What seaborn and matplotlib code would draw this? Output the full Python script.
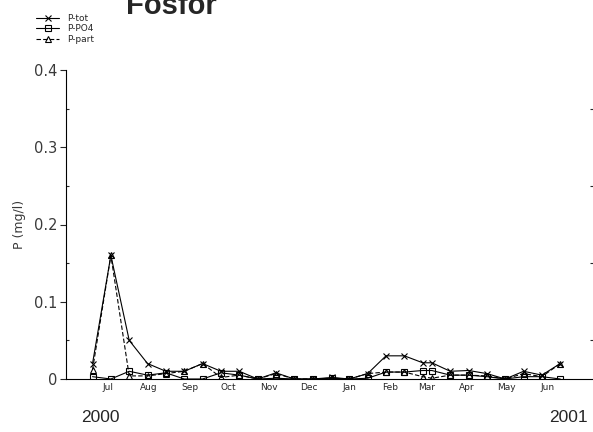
import numpy as np
import pandas as pd
import matplotlib
matplotlib.use('Agg')
import matplotlib.pyplot as plt
import matplotlib.ticker as ticker
import matplotlib.transforms as mtransforms
from matplotlib.legend_handler import HandlerLine2D
import seaborn as sns

# sampling dates (biweekly Mondays)
dates = pd.to_datetime([
    '2000-07-03', '2000-07-17', '2000-07-31', '2000-08-14', '2000-08-28',
    '2000-09-11', '2000-09-25', '2000-10-09', '2000-10-23', '2000-11-06',
    '2000-11-20', '2000-12-04', '2000-12-18', '2001-01-02', '2001-01-15',
    '2001-01-29', '2001-02-12', '2001-02-26', '2001-03-12', '2001-03-19',
    '2001-04-02', '2001-04-16', '2001-04-30', '2001-05-14', '2001-05-28',
    '2001-06-11', '2001-06-25'])

p_tot = [0.02, 0.16, 0.05, 0.02, 0.01, 0.01, 0.02, 0.01, 0.01, 0.0,
         0.008, 0.0, 0.0, 0.002, 0.0, 0.007, 0.03, 0.03, 0.021, 0.021,
         0.01, 0.011, 0.007, 0.0, 0.01, 0.005, 0.02]
p_po4 = [0.003, 0.0, 0.01, 0.005, 0.008, 0.0, 0.0, 0.008, 0.005, 0.0,
         0.001, 0.0, 0.0, 0.001, 0.0, 0.001, 0.009, 0.009, 0.011, 0.011,
         0.005, 0.005, 0.003, 0.0, 0.003, 0.003, 0.0]
p_part = [0.012, 0.16, 0.004, 0.004, 0.007, 0.01, 0.02, 0.002, 0.005, 0.0,
          0.007, 0.0, 0.0, 0.001, 0.0, 0.007, 0.009, 0.009, 0.003, 0.001,
          0.005, 0.005, 0.004, 0.0, 0.007, 0.003, 0.02]

month_names = ['Jul', 'Aug', 'Sep', 'Oct', 'Nov', 'Dec',
               'Jan', 'Feb', 'Mar', 'Apr', 'May', 'Jun']
month_mid = pd.date_range('2000-07-01', '2001-06-01', freq='MS') + pd.Timedelta(days=14)
y_ticks = [0, 0.1, 0.2, 0.3, 0.4]
y_ticklabels = ['0', '0.1', '0.2', '0.3', '0.4']
years = ['2000', '2001']
year_pos = pd.to_datetime(['2000-07-09', '2001-07-01'])

sns.set_style('white')
plt.rcParams['font.family'] = ['DejaVu Sans']
plt.rcParams['axes.unicode_minus'] = False


class EndMarker(HandlerLine2D):
    # marker at the right end of the legend line, like the original
    def get_xdata(self, legend, xdescent, ydescent, width, height, fontsize):
        xdata = np.array([-xdescent, -xdescent + width])
        return xdata, xdata[-1:]


fig = plt.figure(figsize=(5.93, 4.32), dpi=100)
ax = fig.add_axes([66 / 593, 1 - 379 / 432, 1 - 66 / 593, 309 / 432])

common = dict(color='black', linewidth=0.8, markersize=4.8,
              markerfacecolor='none', markeredgecolor='black', markeredgewidth=0.8)
sns.lineplot(x=dates, y=p_tot, ax=ax, marker='x', linestyle='-', label='P-tot', **common)
sns.lineplot(x=dates, y=p_po4, ax=ax, marker='s', linestyle='-', label='P-PO4', **common)
sns.lineplot(x=dates, y=p_part, ax=ax, marker='^', linestyle=(0, (4, 2)), label='P-part', **common)

ax.set_xlim(pd.Timestamp('2000-06-12 18:00'), pd.Timestamp('2001-07-20'))
ax.set_ylim(0, 0.4)

# y axis
ax.set_yticks(y_ticks)
ax.set_yticklabels(y_ticklabels)
ax.yaxis.set_minor_locator(ticker.MultipleLocator(0.05))
ax.tick_params(axis='y', which='major', direction='out', length=4, width=0.8,
               labelsize=10.5, labelcolor='#3a3a3a', right=True, pad=2)
ax.tick_params(axis='y', which='minor', direction='in', length=2, width=0.8, right=True)
ax.set_ylabel('P (mg/l)', fontsize=9, labelpad=6, color='#3a3a3a')

# x axis: month borders, long ticks at half years
ax.set_xticks(pd.to_datetime(['2000-07-01', '2001-01-01']))
ax.set_xticklabels([])
ax.set_xticks(pd.date_range('2000-08-01', '2001-07-01', freq='MS'), minor=True)
ax.tick_params(axis='x', which='major', direction='out', length=17, width=0.8)
ax.tick_params(axis='x', which='minor', direction='out', length=9, width=0.8)
ax.set_xlabel('')

# right-side ticks without spine
ax.yaxis.set_ticks_position('both')
for side in ['top', 'right']:
    ax.spines[side].set_visible(False)
for side in ['left', 'bottom']:
    ax.spines[side].set_linewidth(0.8)
    ax.spines[side].set_color('black')

# month names between the border ticks
sec = ax.secondary_xaxis('bottom')
sec.set_xticks(month_mid)
sec.set_xticklabels(month_names)
sec.tick_params(axis='x', length=0, pad=3, labelsize=6.5)
sec.spines['bottom'].set_visible(False)

# year labels
trans = mtransforms.blended_transform_factory(ax.transData, ax.transAxes)
for yr, pos in zip(years, year_pos):
    ax.text(pos, -0.126, yr, transform=trans, ha='center', va='center',
            fontsize=12.5, family=['Liberation Sans', 'DejaVu Sans'])

# title, partly cut at the top like the original
fig.text(171 / 593, 1 - 14 / 432, 'Fosfor', ha='center', va='baseline',
         fontsize=21, fontweight='bold', family=['Liberation Sans', 'DejaVu Sans'])

handles, labels = ax.get_legend_handles_labels()
ax.get_legend().remove()
fig.legend(handles, labels, loc='upper left', bbox_to_anchor=(36 / 593, 1 - 14 / 432),
           frameon=False, fontsize=6.5, handlelength=2.6, handletextpad=0.9,
           labelspacing=0.15, borderpad=0, borderaxespad=0,
           handler_map={h: EndMarker() for h in handles})

fig.savefig('out.png', dpi=100)
